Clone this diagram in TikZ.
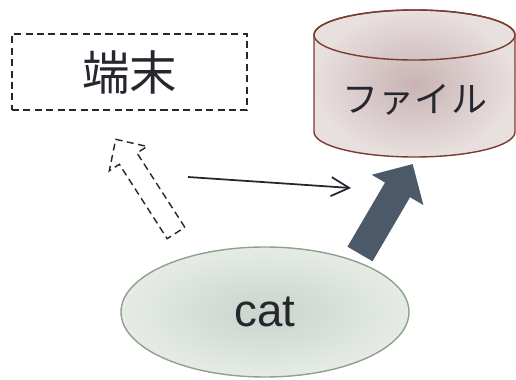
\documentclass[tikz,border=0pt]{standalone}
\usepackage{fontspec}
\setmainfont{Liberation Sans}
\newfontfamily\jpfont{Noto Sans CJK JP}
\usetikzlibrary{shapes.geometric,arrows.meta}
\definecolor{ink}{HTML}{26262E}
\definecolor{slate}{HTML}{4B5969}
\definecolor{drum}{HTML}{7B3B2E}
\definecolor{druminner}{HTML}{C8B3B3}
\definecolor{drumouter}{HTML}{E8DFDF}
\definecolor{catline}{HTML}{8FA08F}
\definecolor{catinner}{HTML}{CAD3CC}
\definecolor{catouter}{HTML}{E6EBE6}
\tikzset{
  dashbox/.style={draw=ink,line width=.8pt,dash pattern=on 4pt off 2.5pt},
}
\begin{document}
\begin{tikzpicture}[>={Straight Barb[length=.36cm,width=.38cm]}]
\useasboundingbox (0,0) rectangle (10.32,7.58);
% terminal
\node[dashbox,minimum width=4.7cm,minimum height=1.52cm,text=ink,font=\jpfont\fontsize{27}{27}\selectfont] (tty) at (2.59,6.14) {端末};
% file
\shadedraw[draw=drum,line width=.8pt,inner color=druminner,outer color=drumouter] (6.28,6.88) -- (6.28,4.94) arc (180:360:2.01 and .5) -- (10.30,6.88) arc (0:180:2.01 and .5) -- cycle;
\draw[drum,line width=.8pt] (8.29,6.88) ellipse (2.01 and .5);
\node[text=ink,font=\jpfont\fontsize{20.5}{20.5}\selectfont] (file) at (8.30,5.58) {ファイル};
% cat
\node[ellipse,draw=catline,line width=.8pt,inner color=catinner,outer color=catouter,minimum width=5.76cm,minimum height=2.6cm,text=ink,font=\fontsize{26}{26}\selectfont] (cat) at (5.30,1.34) {cat};

\coordinate (out) at (3.76,4.04);
\coordinate (in) at (7.02,3.82);
\draw[->,ink,line width=1pt] (out)--(in);

\coordinate (wbase) at (7.20,2.50);
\coordinate (wtip) at (8.254,4.30);
\draw[slate,line width=.58cm,-{Triangle[length=.6cm,width=1.16cm]}] (wbase)--(wtip);

\coordinate (rbase) at (3.52,2.92);
\begin{scope}[shift={(rbase)},rotate=122.75]
\draw[dashbox] (0,-.21)--(1.768,-.21)--(1.768,-.45)--(2.228,0)--(1.768,.45)--(1.768,.21)--(0,.21)--cycle;
\end{scope}

    \end{tikzpicture}
\end{document}
